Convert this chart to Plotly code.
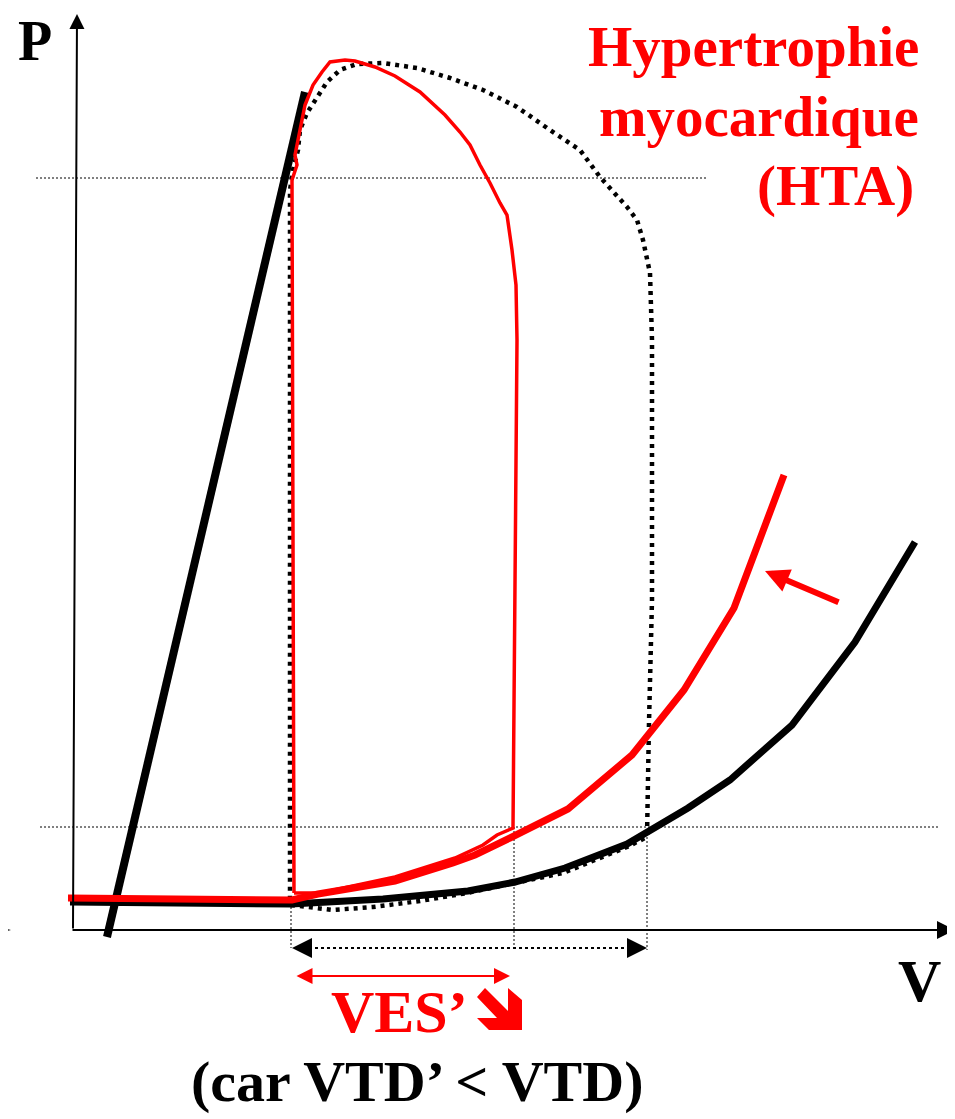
import plotly.graph_objects as go

# Volume / pressure in arbitrary units (origin = where the two axes cross)
espvr_v = [34, 232]
espvr_p = [-7, 838]

edpvr_v = [-3, 218, 310, 395, 442, 492, 554, 615, 657, 719, 782, 842]
edpvr_p = [28, 26, 31, 39, 48, 62, 86, 122, 150, 205, 288, 388]

edpvr_hta_v = [-5, 219, 245, 322, 380, 402, 437, 495, 559, 611, 661, 711]
edpvr_hta_p = [32, 30, 36, 49, 67, 75, 92, 121, 175, 240, 322, 455]

# normal loop (dotted)
loop_v = [218, 260, 300, 347, 394, 442, 490, 554, 574, 576, 579, 579, 579, 577,
          570, 564, 554, 527, 507, 477, 444, 410, 377, 344, 310, 284, 267, 254,
          244, 234, 227, 225, 220, 217, 217]
loop_p = [25, 20, 23, 29, 37, 47, 57, 83, 93, 207, 330, 480, 590, 657,
          690, 710, 723, 753, 780, 800, 823, 840, 852, 862, 867, 866, 860, 848,
          833, 817, 800, 780, 760, 740, 25]

# hypertrophy loop (red)
loop_hta_v = [221, 219, 224, 222, 227, 232, 240, 249, 257, 272, 282, 302, 322,
              347, 372, 387, 397, 407, 417, 427, 434, 439, 443, 444, 440, 424,
              410, 382, 322, 247, 221]
loop_hta_p = [37, 750, 765, 775, 800, 825, 845, 858, 868, 870, 869, 863, 854,
              838, 815, 798, 785, 765, 747, 727, 715, 680, 645, 590, 102, 95,
              85, 72, 53, 37, 37]

# guide levels and volumes
p_high, p_low = 752, 103
ves_hta, vtd_hta, vtd = 218, 441, 574

# "decreases" arrow symbol next to VES'
down_v = [412, 404, 424, 404, 416, 449, 449, 435, 435, 412]
down_p = [-58, -67, -88, -88, -100, -100, -70, -58, -81, -58]

BLACK = "#000000"
RED = "#FF0000"
SERIF = "Liberation Serif"

fig = go.Figure()


def line(x, y, color, width, dash="solid"):
    fig.add_trace(go.Scatter(x=x, y=y, mode="lines", hoverinfo="skip",
                             line=dict(color=color, width=width, dash=dash)))


def poly(x, y, color):
    fig.add_trace(go.Scatter(x=x, y=y, mode="lines", fill="toself",
                             fillcolor=color, line=dict(width=0),
                             hoverinfo="skip"))


# thin dotted guides
line([-37, 634], [p_high, p_high], BLACK, 1, "2px,2px")
line([-33, 865], [p_low, p_low], BLACK, 1, "2px,2px")
line([ves_hta, ves_hta], [23, -18], BLACK, 1, "2px,2px")
line([vtd_hta, vtd_hta], [p_low, -18], BLACK, 1, "2px,2px")
line([vtd, vtd], [97, -20], BLACK, 1, "2px,2px")
line([ves_hta + 12, vtd - 12], [-18, -18], BLACK, 2, "3px,3px")

# left stray arrow tip
poly([-80, -62, -80, -80], [5, 0, -5, 5], BLACK)
poly(down_v, down_p, RED)

line(espvr_v, espvr_p, BLACK, 8)
line(loop_v, loop_p, BLACK, 4.5, "4px,5px")
line(edpvr_v, edpvr_p, BLACK, 7)
line(edpvr_hta_v, edpvr_hta_p, RED, 7)
line(loop_hta_v, loop_hta_p, RED, 3.5)

ann = []


def arrow(x, y, ax, ay, color, width, size, side="end"):
    ann.append(dict(x=x, y=y, ax=ax, ay=ay, xref="x", yref="y", axref="x",
                    ayref="y", text="", showarrow=True, arrowhead=2,
                    startarrowhead=2, arrowside=side, arrowcolor=color,
                    arrowwidth=width, arrowsize=size, startarrowsize=size))


# axes
arrow(4, 916, 0, 0, BLACK, 2, 1.5)
arrow(882, 0, -2, 0, BLACK, 2, 1.8)
# volume arrows
arrow(ves_hta + 1, -18, ves_hta + 14, -18, BLACK, 2, 2)
arrow(vtd, -18, vtd - 13, -18, BLACK, 2, 2)
arrow(437, -46, 222, -46, RED, 2, 1.6, "end+start")
# shift of EDPVR
arrow(692, 359, 767, 327, RED, 6, 0.8)


def label(text, x, y, size, color, xanchor="center", yanchor="middle"):
    ann.append(dict(x=x, y=y, xref="x", yref="y", text=text, showarrow=False,
                    xanchor=xanchor, yanchor=yanchor,
                    font=dict(family=SERIF, size=size, color=color,
                              weight="bold")))


label("P", -38, 922, 56, BLACK, yanchor="top")
label("V", 846, -51, 60, BLACK)
label("Hypertrophie", 848, 884, 57, RED, "right")
label("myocardique", 848, 814, 57, RED, "right")
label("(HTA)", 843, 744, 57, RED, "right")
label("VES’", 256, -82, 60, RED, "left")
label("(car VTD’ &lt; VTD)", 344, -151, 58, BLACK)

# the page body adds an 8 px offset, so the ranges are shifted to compensate
fig.update_layout(
    width=955, height=1119,
    margin=dict(l=0, r=0, t=0, b=0),
    paper_bgcolor="white", plot_bgcolor="white",
    showlegend=False,
    xaxis=dict(range=[-65, 890], visible=False, fixedrange=True),
    yaxis=dict(range=[-197, 922], visible=False, fixedrange=True),
    annotations=ann,
)

fig.write_html("out.html")
